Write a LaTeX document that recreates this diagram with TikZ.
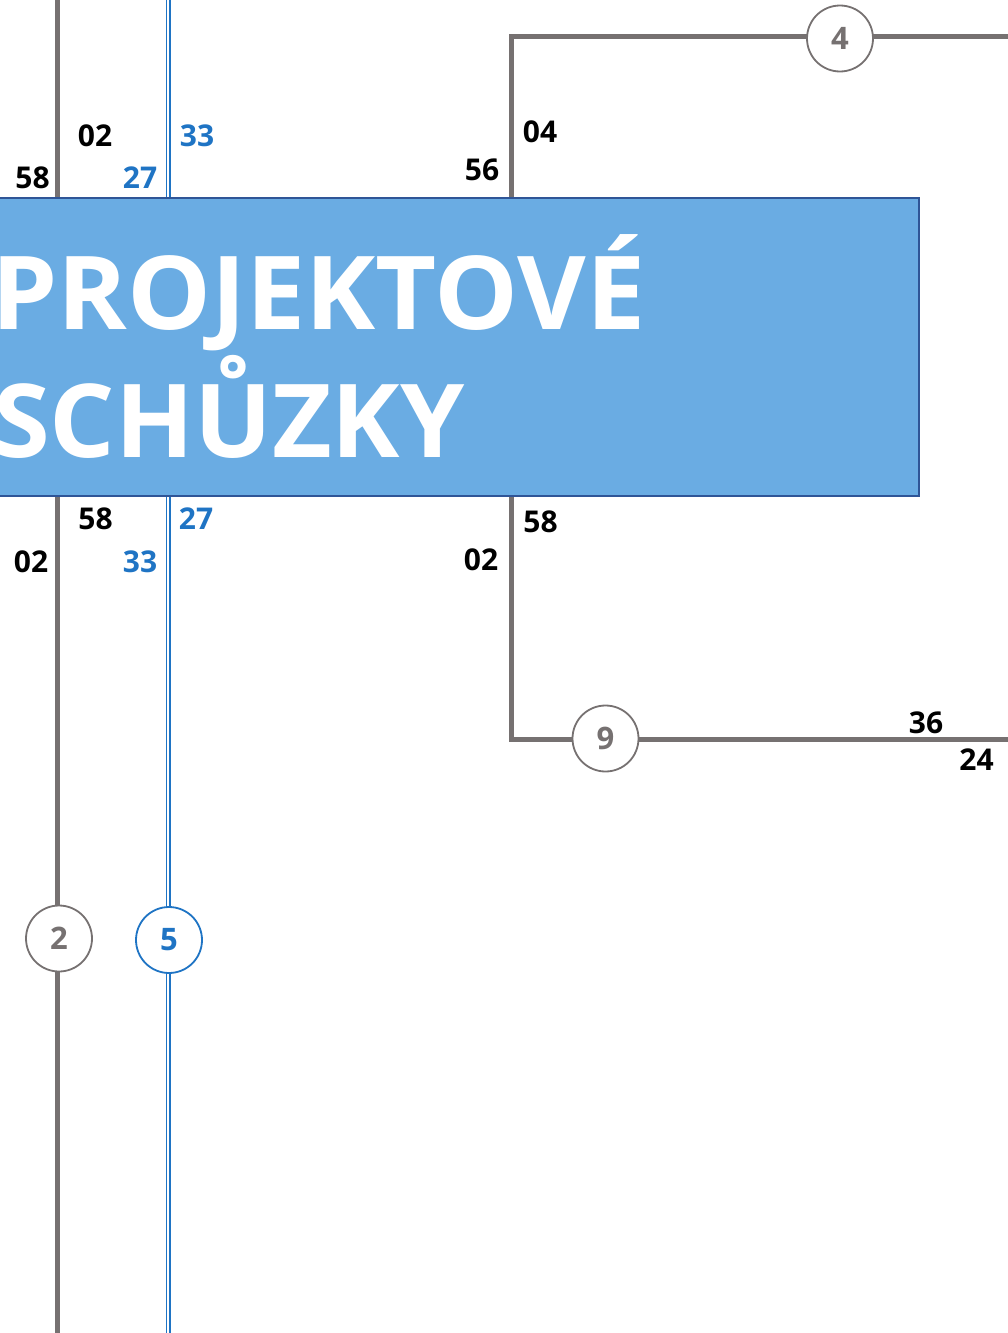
\documentclass[tikz,border=0pt]{standalone}
\usepackage{fontspec}
\setmainfont{Open Sans}
\definecolor{lgray}{HTML}{767171}
\definecolor{lblue}{HTML}{1F74C4}
\definecolor{boxfill}{HTML}{6AACE3}
\definecolor{boxline}{HTML}{2F5597}
\begin{document}
\begin{tikzpicture}[x=1pt,y=-1pt,
  grayline/.style={draw=lgray,line width=5pt,line join=miter},
  blueline/.style={draw=lblue,double=white,line width=1.4pt,double distance=2pt},
  stop/.style={circle,fill=white,draw=lgray,line width=1.8pt,minimum size=66pt,inner sep=0pt,text=lgray,font=\bfseries\fontsize{31}{31}\selectfont},
  bstop/.style={stop,draw=lblue,text=lblue},
  lab/.style={anchor=base,inner sep=0pt,font=\bfseries\fontsize{30}{30}\selectfont},
  blab/.style={lab,text=lblue},
  title/.style={anchor=base west,inner sep=0pt,text=white,font=\bfseries\fontsize{102}{102}\selectfont}]
\useasboundingbox (0,0) rectangle (1008,1333);
% coordinates
\coordinate (gtop) at (57.5,0);
\coordinate (gbot) at (57.5,1333);
\coordinate (btop) at (168.4,0);
\coordinate (bbot) at (168.4,1333);
\coordinate (ntop) at (511,198);
\coordinate (ncorner) at (511,36);
\coordinate (nend) at (1010,36);
\coordinate (sbot) at (511,496);
\coordinate (scorner) at (511,739.5);
\coordinate (send) at (1010,739.5);
% lines
\draw[grayline] (gtop) -- (gbot);
\draw[blueline] (btop) -- (bbot);
\draw[grayline] (ntop) -- (ncorner) -- (nend);
\draw[grayline] (sbot) -- (scorner) -- (send);
% stops
\node[stop] (s2) at (59,938.5) {2};
\node[bstop] (s5) at (169,940) {5};
\node[stop] (s4) at (840,38.5) {4};
\node[stop] (s9) at (605.5,738.5) {9};
% box
\path[fill=boxfill,draw=boxline,line width=2pt] (-10,198) rectangle (919,496);
\node[title,xscale=1.036] (t1) at (-9,329) {PROJEKTOVÉ};
\node[title,xscale=1.01] (t2) at (-7,457) {SCHŮZKY};
% labels
\node[lab] (a1) at (32.5,188) {58};
\node[lab] (a2) at (95,146) {02};
\node[blab] (a3) at (140,188) {27};
\node[blab] (a4) at (197,146) {33};
\node[lab] (a5) at (482,180) {56};
\node[lab] (a6) at (540,142) {04};
\node[lab] (b1) at (95.5,529) {58};
\node[lab] (b2) at (31,572) {02};
\node[blab] (b3) at (196,529) {27};
\node[blab] (b4) at (140,572) {33};
\node[lab] (b5) at (540.5,532) {58};
\node[lab] (b6) at (481,570) {02};
\node[lab] (c1) at (926,733) {36};
\node[lab] (c2) at (976.5,770) {24};
\end{tikzpicture}
\end{document}
